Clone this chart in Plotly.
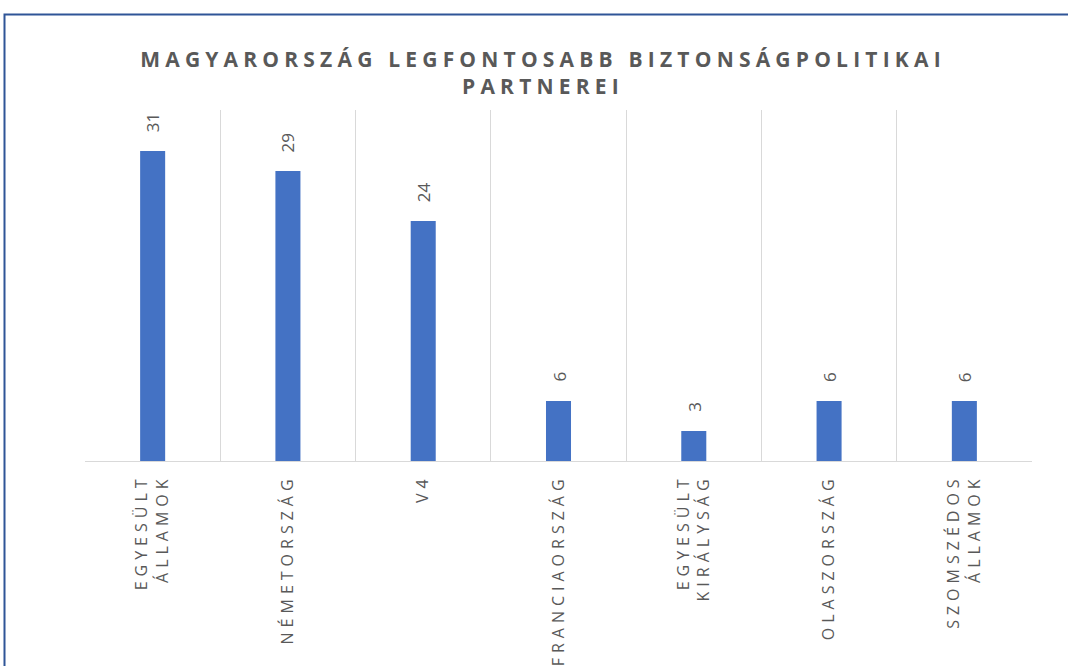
import plotly.graph_objects as go

categories = [
    ["EGYESÜLT", "ÁLLAMOK"],
    ["NÉMETORSZÁG"],
    ["V4"],
    ["FRANCIAORSZÁG"],
    ["EGYESÜLT", "KIRÁLYSÁG"],
    ["OLASZORSZÁG"],
    ["SZOMSZÉDOS", "ÁLLAMOK"],
]
values = [31, 29, 24, 6, 3, 6, 6]
title_lines = ["MAGYARORSZÁG LEGFONTOSABB BIZTONSÁGPOLITIKAI", "PARTNEREI"]

GRAY = "#595959"
BLUE = "#4472C4"

cat_keys = [" ".join(c) for c in categories]


def spaced(lines, ls, bold=False):
    out = []
    for l in lines:
        s = '<span style="letter-spacing:%spx">%s</span>' % (ls, l)
        if bold:
            s = "<b>" + s + "</b>"
        out.append(s)
    return "<br>".join(out)


fig = go.Figure()
fig.add_trace(go.Bar(
    x=cat_keys, y=values, marker_color=BLUE, marker_line_width=0,
    hoverinfo="x+y",
))

for k, v in zip(cat_keys, values):
    fig.add_annotation(
        x=k, y=v, xref="x", yref="y",
        text=str(v),
        textangle=-90, showarrow=False,
        yanchor="bottom", xanchor="center", yshift=17,
        font=dict(family="Open Sans", size=17, color=GRAY),
    )

L, R, T, B = 85, 36, 110, 205
W, H = 1068, 666
pw, ph = W - L - R, H - T - B

# frame
fig.add_shape(type="rect", xref="paper", yref="paper",
              x0=(4.5 - L) / pw, x1=(1200 - L) / pw,
              y0=(ph + T - 800) / ph, y1=(ph + T - 14.5) / ph,
              line=dict(color="#2F5597", width=2), fillcolor="rgba(0,0,0,0)", layer="below")

fig.update_layout(
    width=W, height=H,
    margin=dict(l=L, r=R, t=T, b=B, pad=0, autoexpand=False),
    paper_bgcolor="white", plot_bgcolor="white",
    showlegend=False,
    bargap=0.815,
    title=dict(
        text=spaced(title_lines, 5.2, bold=True),
        x=543 / W, xanchor="center", xref="container",
        y=1 - 67 / H, yanchor="middle", yref="container",
        font=dict(family="Open Sans", size=21, color=GRAY),
    ),
    xaxis=dict(
        type="category",
        tickmode="array", tickvals=cat_keys,
        ticktext=[spaced(c, 5) for c in categories],
        tickangle=-90,
        tickson="boundaries",
        ticks="", showgrid=True, gridcolor="#D9D9D9", gridwidth=1,
        showline=True, linecolor="#D9D9D9", linewidth=1,
        tickfont=dict(family="Open Sans", size=16, color=GRAY),
        ticklabelstandoff=6,
        automargin=False,
        range=[-0.5, 6.5],
    ),
    yaxis=dict(
        range=[0, 35.1], showgrid=False, showticklabels=False,
        zeroline=False, showline=False, ticks="", automargin=False,
    ),
)

fig.write_html("out.html", config={"displayModeBar": False},
               post_script="document.body.style.margin='0';")
